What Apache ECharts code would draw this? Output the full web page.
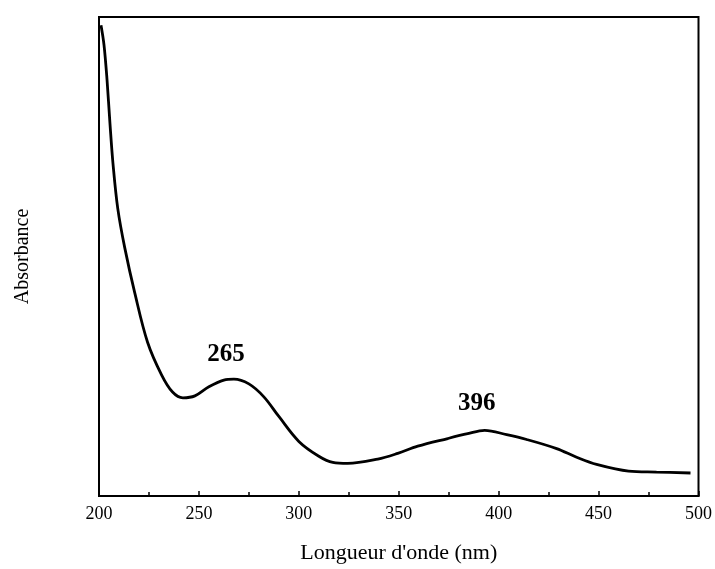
<!DOCTYPE html>
<html><head><meta charset="utf-8">
<script src="https://cdn.jsdelivr.net/npm/echarts@6/dist/echarts.min.js"></script>
<style>html,body{margin:0;padding:0;background:#fff}#c{width:715px;height:569px}</style>
</head><body><div id="c"></div>
<script>
const wavelengths = [201,202.5,204,205.5,207,209.4,212.9,217.9,224.3,231.3,236.8,242,248,255,262.5,267.5,275,282.5,290,300,310,317,324.5,339.5,349.5,359.5,374.5,384.5,393,404,414,429,439,449,465,479,496];
const absorbance = [0.983,0.942,0.870,0.777,0.694,0.600,0.518,0.424,0.321,0.253,0.217,0.205,0.209,0.228,0.242,0.244,0.234,0.207,0.166,0.114,0.083,0.070,0.068,0.077,0.089,0.104,0.120,0.130,0.137,0.128,0.118,0.099,0.081,0.066,0.052,0.050,0.048];
const peakLabels = ['265','396'];
const peakLabelPos = [[263.6,0.296],[389,0.193]];
const xTicks = [200,250,300,350,400,450,500];

const chart = echarts.init(document.getElementById('c'));
chart.setOption({
  animation:false,
  backgroundColor:'#fff',
  grid:{left:99,right:12,top:17,bottom:69,show:true,borderColor:'#000',borderWidth:2,backgroundColor:'transparent'},
  xAxis:{type:'value',min:xTicks[0],max:xTicks[xTicks.length-1],interval:50,
    name:'Longueur d\'onde (nm)',nameLocation:'middle',nameGap:46,
    nameTextStyle:{fontFamily:'Liberation Serif',fontSize:22,color:'#000'},
    axisLine:{show:true,lineStyle:{color:'#000',width:2}},
    axisTick:{show:true,inside:true,length:5,lineStyle:{color:'#000',width:1.5}},
    minorTick:{show:true,splitNumber:2,length:4,lineStyle:{color:'#000',width:1.5}},
    axisLabel:{fontFamily:'Liberation Serif',fontSize:18,color:'#000',margin:9},
    splitLine:{show:false}},
  yAxis:{type:'value',min:0,max:1,
    name:'Absorbance',nameLocation:'middle',nameGap:66,
    nameTextStyle:{fontFamily:'Liberation Serif',fontSize:20,color:'#000'},
    axisLine:{show:true,lineStyle:{color:'#000',width:2}},
    axisTick:{show:false},axisLabel:{show:false},splitLine:{show:false}},
  series:[{
    type:'line',smooth:0.35,symbol:'none',
    data:wavelengths.map((w,i)=>[w,absorbance[i]]),
    lineStyle:{color:'#000',width:2.8},
    markPoint:{symbol:'circle',symbolSize:0,
      label:{show:true,position:'inside',fontFamily:'Liberation Serif',fontWeight:'bold',fontSize:25,color:'#000',formatter:p=>p.name},
      data:peakLabels.map((t,i)=>({name:t,coord:peakLabelPos[i]}))}
  }]
});
</script></body></html>
